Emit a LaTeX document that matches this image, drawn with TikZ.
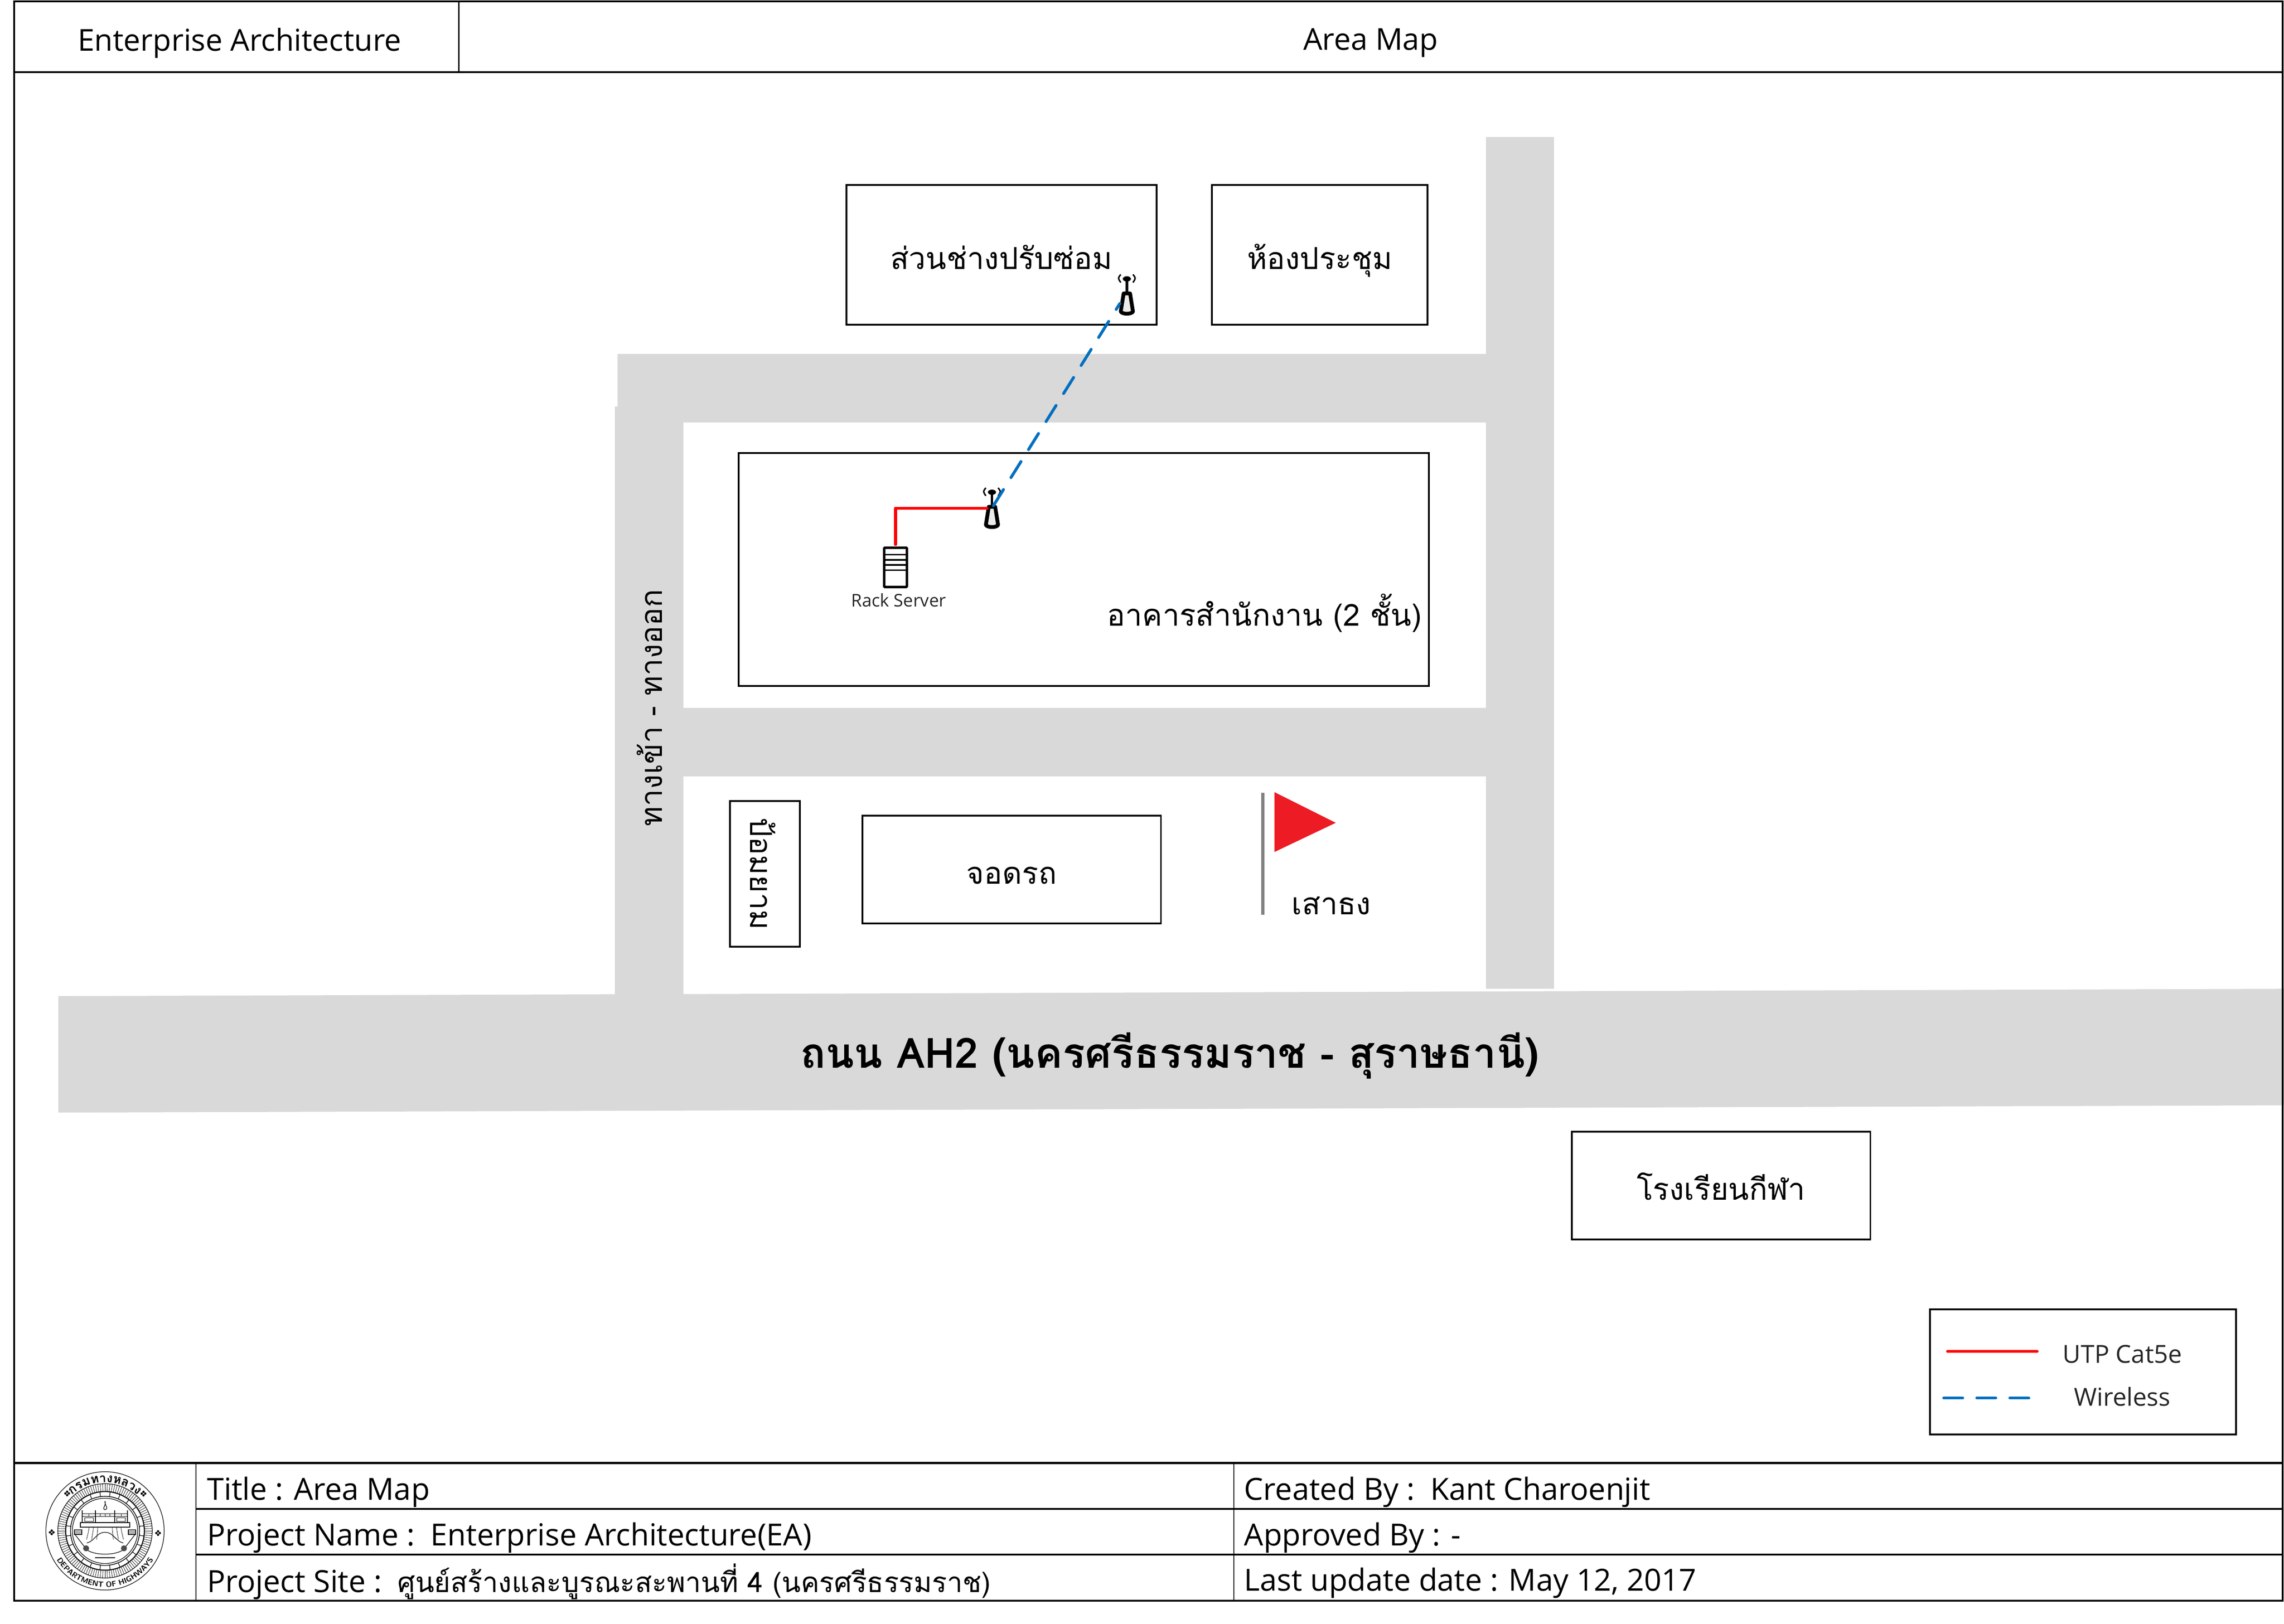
\documentclass[tikz,border=0pt]{standalone}
\usepackage{fontspec}
\setmainfont{Open Sans}
\newfontfamily\thaifont[Script=Thai]{Loma}
\usetikzlibrary{decorations.text}
\definecolor{roadgray}{HTML}{D9D9D9}
\definecolor{linkred}{HTML}{FF0000}
\definecolor{linkblue}{HTML}{0070C0}
\definecolor{flagred}{HTML}{ED1C24}
\tikzset{
  road/.style={fill=roadgray,draw=none},
  frameline/.style={black,line width=1.3pt},
  bldg/.style={draw=black,line width=1.2pt,inner sep=0pt,outer sep=0pt,text height=22pt,text depth=2pt,font=\thaifont\fontsize{20.8}{24}\selectfont},
  thailabel/.style={inner sep=0pt,font=\thaifont\fontsize{20.8}{24}\selectfont},
  headtext/.style={inner sep=0pt,font=\fontsize{20.7}{24}\selectfont},
  foottext/.style={inner sep=0pt,anchor=west,font=\fontsize{20.9}{24}\selectfont},
  thinlabel/.style={inner sep=0pt,black!85},
  utp/.style={linkred,line width=2pt,line cap=round,line join=round},
  wifi/.style={linkblue,line width=2pt,line cap=round,dash pattern=on 13pt off 9.7pt},
  seal/.style={black,line width=.4pt},
  pics/apicon/.style={code={
    \draw[black,line width=2.6pt,line join=round,fill=black!8] (-2.2,-1) -- (2.2,-1) -- (4.2,11.5) .. controls (3,13.4) and (-3,13.4) .. (-4.2,11.5) -- cycle;
    \draw[black,line width=1.8pt] (0,-2) -- (0,-11);
    \fill[black] (0,-11) ellipse (2.8 and 1.8);
    \draw[black,line width=1pt] (-4.2,-14) .. controls (-6.2,-11.5) .. (-4.2,-8.5);
    \draw[black,line width=1pt] (4.2,-14) .. controls (6.2,-11.5) .. (4.2,-8.5);
  }}
}
\begin{document}
\begin{tikzpicture}[x=1pt,y=-1pt]
    \useasboundingbox (0,0) rectangle (1568,1115);
    \path[road] (40,684) -- (1568,679) -- (1568,759) -- (40,764) -- cycle;
    \path[road] (422,279) rectangle (469,684);
    \path[road] (424,243) rectangle (1021,290);
    \path[road] (1020,94) rectangle (1067,679);
    \path[road] (469,486) rectangle (1021,533);
    \draw[frameline] (9.7,1) rectangle (1567,1099.2);
    \draw[frameline] (9.7,49.5) -- (1567,49.5);
    \draw[frameline,line width=.8pt] (315,1) -- (315,49.5);
    \draw[frameline] (9.7,1004.6) -- (1567,1004.6);
    \draw[frameline] (134.6,1036) -- (1567,1036);
    \draw[frameline] (134.6,1067.6) -- (1567,1067.6);
    \draw[frameline,line width=.8pt] (134.6,1004.6) -- (134.6,1099.2);
    \draw[frameline,line width=.8pt] (847,1004.6) -- (847,1099.2);
    \node[headtext] (headEA) at (164.5,29.5) {Enterprise Architecture};
    \node[headtext] (headMap) at (941,29.5) {Area Map};
    \node[bldg,minimum width=213pt,minimum height=96pt] (workshop) at (687.5,175) {ส่วนช่างปรับซ่อม};
    \node[bldg,minimum width=148pt,minimum height=96pt] (meeting) at (906,175) {ห้องประชุม};
    \node[bldg,minimum width=474pt,minimum height=160pt] (office) at (744,391) {};
    \node[thailabel] (officeText) at (868,421) {อาคารสำนักงาน (2 ชั้น)};
    \node[bldg,minimum width=100pt,minimum height=48pt,rotate=-90] (guard) at (525,600) {ป้อมยาม};
    \node[bldg,minimum width=205pt,minimum height=74pt] (parking) at (694.5,597) {จอดรถ};
    \node[bldg,minimum width=205pt,minimum height=74pt] (school) at (1181.5,814) {โรงเรียนกีฬา};
    \node[thailabel,rotate=90] (gateText) at (446,486) {ทางเข้า - ทางออก};
    \node[thailabel] (flagText) at (914,622) {เสาธง};
    \node[inner sep=0pt,font=\thaifont\bfseries\fontsize{28.7}{32}\selectfont] (roadText) at (803,725) {ถนน AH2 (นครศรีธรรมราช - สุราษธานี)};
    \draw[gray,line width=2.2pt] (867,544.5) -- (867,628);
    \fill[flagred] (875,544) -- (917,565) -- (875,585) -- cycle;
    \pic at (681,349) {apicon};
    \pic at (773.6,202.5) {apicon};
    \coordinate (apOfficeRed) at (677.7,349);
    \coordinate (apOfficeAir) at (682,347.2);
    \coordinate (apShopAir) at (768.8,208.4);
    \node[draw=black,line width=1.7pt,rounded corners=.5pt,outer sep=0pt,inner sep=0pt,minimum width=15.6pt,minimum height=27pt] (rack) at (614.8,389.6) {};
    \foreach \ry in {380.8,384.4,388,391.6}
      \draw[black,line width=1.1pt] (rack.west |- 0,\ry) -- (rack.east |- 0,\ry);
    \node[thinlabel,font=\fontsize{12}{14}\selectfont] (rackText) at (617,412) {Rack Server};
    \draw[utp,shorten <=2.2pt] (rack.north) |- (apOfficeRed);
    \draw[wifi] (apOfficeAir) -- (apShopAir);
    \node[draw=black,line width=1.2pt,outer sep=0pt,minimum width=210pt,minimum height=86pt] (legend) at (1430,942) {};
    \coordinate (utpA) at (1337,928);
    \coordinate (utpB) at (1398.5,928);
    \coordinate (wifiA) at (1334.4,960);
    \coordinate (wifiB) at (1392.8,960);
    \draw[utp] (utpA) -- (utpB);
    \draw[wifi] (wifiA) -- (wifiB);
    \node[thinlabel,font=\fontsize{17}{20}\selectfont] (utpText) at (1457,930) {UTP Cat5e};
    \node[thinlabel,font=\fontsize{17}{20}\selectfont] (wifiText) at (1457,959) {Wireless};
    \node[foottext] (fTitle) at (142,1024.5) {Title : Area Map};
    \node[foottext] (fName) at (142,1056) {Project Name :\ \ Enterprise Architecture(EA)};
    \node[foottext] (fSite) at (142,1086) {Project Site :\ \ {\thaifont\fontsize{19.1}{24}\selectfont ศูนย์สร้างและบูรณะสะพานที่ 4 (นครศรีธรรมราช)}};
    \node[foottext] (fCreated) at (854,1024.5) {Created By :\ \ Kant Charoenjit};
    \node[foottext] (fApproved) at (854,1056) {Approved By : -};
    \node[foottext] (fUpdate) at (854,1087) {Last update date : May 12, 2017};
    \begin{scope}[shift={(72.1,1051.2)},y=1pt]
      \draw[seal] (0,0) circle (40.6);
      \draw[seal] (0,0) circle (32.4);
      \draw[seal,line width=.7pt] (0,0) circle (27);
      \draw[seal,line width=.5pt] (0,0) circle (23.7);
      \draw[seal] (0,0) circle (22.4);
      \foreach \a in {0,3,...,357}
        \draw[seal,line width=.25pt] (\a:27) -- (\a:32.4);
      \foreach \a in {7.5,22.5,...,352.5}
        \draw[seal] (\a:23.7) -- (\a:27);
      \foreach \fx/\fy in {-26/25.7,26.4/25.6,-36.6/-1,36.4/-1.5} {
        \foreach \a in {0,90,180,270}
          \fill[black] (\fx,\fy) ++(\a:1.2) circle (.8);
      }
      \path[decorate,decoration={text along path,text align=center,text={|\thaifont\bfseries\fontsize{8.5}{9}\selectfont|กรมทางหลวง}}] (142:33.4) arc (142:38:33.4);
      \path[decorate,decoration={text along path,text align=center,text={|\sffamily\bfseries\fontsize{5.2}{6}\selectfont|DEPARTMENT OF HIGHWAYS}}] (210:38.6) arc (210:330:38.6);
      \draw[seal,line width=.6pt] (-17,5.7) rectangle (17,2.5);
      \draw[seal,line width=.35pt] (-15.6,11.8) -- (15.6,11.8) (-15.6,9.8) -- (15.6,9.8);
      \foreach \px in {-15.6,-6.6,6.5,15.5}
        \draw[seal,line width=.7pt] (\px,5.7) -- (\px,14);
      \foreach \px in {-11,-3.3,0,3.3,11}
        \draw[seal,line width=.25pt] (\px,9.8) -- (\px,11.8);
      \draw[seal,line width=.3pt] (-14,9) rectangle (-8,6.4) (8,9) rectangle (14,6.4);
      \draw[seal] (0,14.5) .. controls (-2.5,15.5) and (1,17) .. (0,20.5) .. controls (-.5,17.5) and (3,15.5) .. (0,14.5);
      \draw[seal] (-12.5,-8.3) .. controls (-7,-7) and (-6,-1) .. (0,-1) .. controls (6,-1) and (7,-7) .. (12.5,-8.3);
      \draw[seal] (-21,-2) -- (-12.5,-13) .. controls (-7,-17) and (7,-17) .. (12.5,-13) -- (21,-2);
      \foreach \vx in {-11,-8,-5,5,8,11}
        \draw[seal,line width=.25pt] (\vx,2.5) .. controls (\vx,0) and (\vx*1.1,-3) .. (\vx*1.15,-6);
      \foreach \gx in {-18.5,18.5} 
        \draw[seal,fill=black!30] (\gx-2.5,-2.5) rectangle (\gx+2.5,.8);
      \foreach \gx in {-13,13}
        \fill[black!70] (\gx,-12) circle (2);
      \draw[seal,line width=.5pt] (-7,-18.5) -- (7,-18.5);
    \end{scope}
\end{tikzpicture}
\end{document}
